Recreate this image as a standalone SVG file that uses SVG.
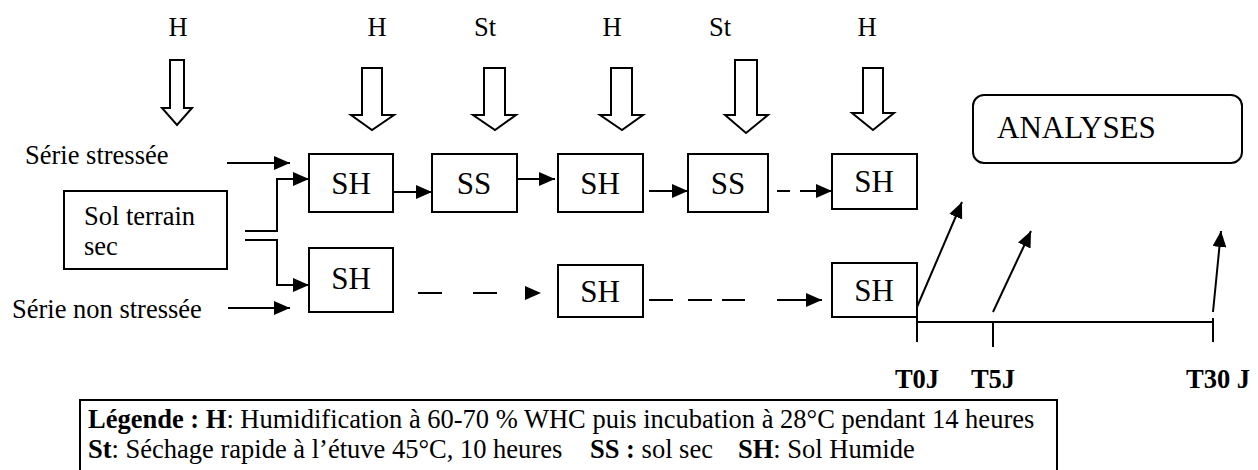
<svg xmlns="http://www.w3.org/2000/svg" width="1258" height="470" viewBox="0 0 1258 470">
<defs>
<style>
text{font-family:"Liberation Serif","Times New Roman",serif;fill:#000}
.lbl{font-size:26.5px}
.big{font-size:31px}
.b{font-weight:bold}
.box{fill:#fff;stroke:#000;stroke-width:2}
.hol{fill:#fff;stroke:#000;stroke-width:2;stroke-linejoin:miter}
.ln{fill:none;stroke:#000;stroke-width:2}
</style>
<marker id="ah" markerUnits="userSpaceOnUse" markerWidth="16" markerHeight="14" refX="16" refY="7" orient="auto">
<path d="M0,0 L16,7 L0,14 Z" fill="#000"/>
</marker>
</defs>
<rect width="1258" height="470" fill="#fff"/>

<g id="top-labels" class="lbl">
<text x="178" y="36" text-anchor="middle">H</text>
<text x="377" y="36" text-anchor="middle">H</text>
<text x="485" y="36" text-anchor="middle">St</text>
<text x="612" y="36" text-anchor="middle">H</text>
<text x="720" y="36" text-anchor="middle">St</text>
<text x="867" y="36" text-anchor="middle">H</text>
</g>

<g id="hollow-arrows">
<path class="hol" d="M170,60 H184 V108 H192 L177,125 L162,108 H170 Z"/>
<path class="hol" d="M362,68 H382 V115 H394 L372,130 L351,115 H362 Z"/>
<path class="hol" d="M484,68 H505 V115 H516 L495,130 L473,115 H484 Z"/>
<path class="hol" d="M611,68 H632 V115 H643 L622,130 L600,115 H611 Z"/>
<path class="hol" d="M735,60 H757 V115 H768 L746,133 L725,115 H735 Z"/>
<path class="hol" d="M863,68 H883 V113 H894 L873,130 L852,113 H863 Z"/>
</g>

<g id="serie-stressee"><text class="lbl" x="25" y="164">Série stressée</text></g>
<g id="serie-non-stressee"><text class="lbl" x="12" y="318">Série non stressée</text></g>

<g id="sol-terrain-sec">
<rect class="box" x="64" y="191" width="163" height="78"/>
<text class="lbl" x="84" y="225">Sol terrain</text>
<text class="lbl" x="84" y="255">sec</text>
</g>

<g id="sh1"><rect class="box" x="309" y="154" width="84" height="58"/><text class="big" x="351" y="194" text-anchor="middle">SH</text></g>
<g id="ss1"><rect class="box" x="432" y="154" width="85" height="58"/><text class="big" x="474" y="194" text-anchor="middle">SS</text></g>
<g id="sh2"><rect class="box" x="558" y="154" width="85" height="58"/><text class="big" x="600" y="194" text-anchor="middle">SH</text></g>
<g id="ss2"><rect class="box" x="688" y="154" width="80" height="58"/><text class="big" x="728" y="194" text-anchor="middle">SS</text></g>
<g id="sh3"><rect class="box" x="832" y="154" width="85" height="55"/><text class="big" x="874" y="192" text-anchor="middle">SH</text></g>

<g id="sh-b1"><rect class="box" x="309" y="248" width="84" height="64"/><text class="big" x="351" y="289" text-anchor="middle">SH</text></g>
<g id="sh-b2"><rect class="box" x="558" y="265" width="85" height="52"/><text class="big" x="600" y="302" text-anchor="middle">SH</text></g>
<g id="sh-b3"><rect class="box" x="832" y="263" width="85" height="54"/><text class="big" x="874" y="301" text-anchor="middle">SH</text></g>

<g id="analyses">
<rect class="box" x="973" y="95" width="269" height="68" rx="11"/>
<text class="big" x="997" y="138">ANALYSES</text>
</g>

<g id="connectors">
<line class="ln" x1="227" y1="163" x2="290" y2="163" marker-end="url(#ah)"/>
<line class="ln" x1="228" y1="308" x2="290" y2="308" marker-end="url(#ah)"/>
<polyline class="ln" points="245,231 277,231 277,179 309,179" marker-end="url(#ah)"/>
<polyline class="ln" points="245,240 277,240 277,285 309,285" marker-end="url(#ah)"/>
<line class="ln" x1="393" y1="192" x2="432" y2="192" marker-end="url(#ah)"/>
<line class="ln" x1="517" y1="179" x2="555" y2="179" marker-end="url(#ah)"/>
<line class="ln" x1="649" y1="191" x2="688" y2="191" marker-end="url(#ah)"/>
<line class="ln" x1="777" y1="191" x2="790" y2="191"/>
<line class="ln" x1="800" y1="191" x2="832" y2="191" marker-end="url(#ah)"/>
<line class="ln" x1="418" y1="293" x2="442" y2="293"/>
<line class="ln" x1="473" y1="293" x2="497" y2="293"/>
<path d="M525,286 L541,293 L525,300 Z" fill="#000"/>
<line class="ln" x1="649" y1="300" x2="673" y2="300"/>
<line class="ln" x1="688" y1="300" x2="712" y2="300"/>
<line class="ln" x1="722" y1="300" x2="745" y2="300"/>
<line class="ln" x1="777" y1="300" x2="822" y2="300" marker-end="url(#ah)"/>
<line class="ln" x1="917" y1="307" x2="962" y2="202" marker-end="url(#ah)"/>
<line class="ln" x1="993" y1="312" x2="1031" y2="231" marker-end="url(#ah)"/>
<line class="ln" x1="1213" y1="312" x2="1221" y2="231" marker-end="url(#ah)"/>
<line class="ln" x1="917" y1="322" x2="1213" y2="322"/>
<line class="ln" x1="917" y1="317" x2="917" y2="342"/>
<line class="ln" x1="993" y1="322" x2="993" y2="347"/>
<line class="ln" x1="1213" y1="318" x2="1213" y2="342"/>
</g>

<g id="time-labels" class="lbl b">
<text x="917" y="388" text-anchor="middle">T0J</text>
<text x="993" y="388" text-anchor="middle">T5J</text>
<text x="1186" y="388">T30 J</text>
</g>

<g id="legend">
<rect x="80" y="400" width="977" height="74" fill="#fff" stroke="#000" stroke-width="2"/>
<text class="lbl" x="88" y="428"><tspan class="b">Légende : H</tspan>: Humidification à 60-70 % WHC puis incubation à 28°C pendant 14 heures</text>
<text class="lbl" x="88" y="458"><tspan class="b">St</tspan>: Séchage rapide à l’étuve 45°C, 10 heures</text>
<text class="lbl" x="590" y="458"><tspan class="b">SS :</tspan> sol sec</text>
<text class="lbl" x="738" y="458"><tspan class="b">SH</tspan>: Sol Humide</text>
</g>
</svg>
